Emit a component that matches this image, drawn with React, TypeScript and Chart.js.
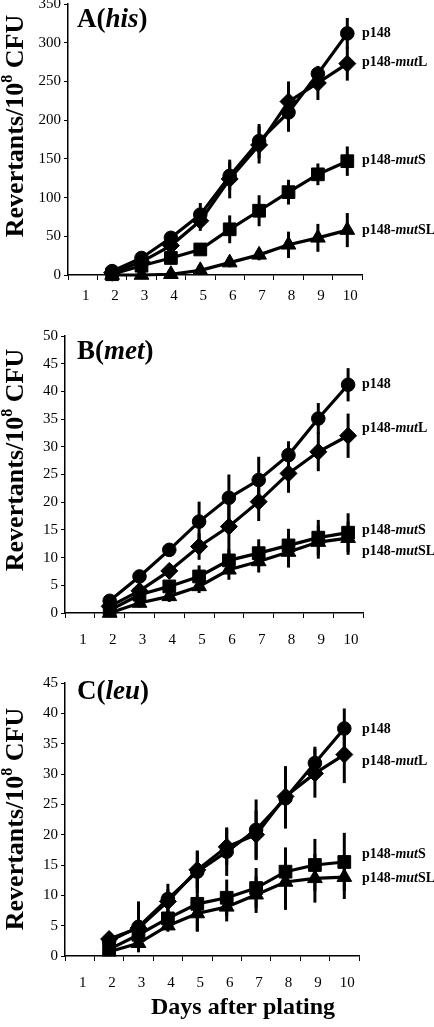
import React, { useEffect, useRef } from 'react';
import { Chart, registerables } from 'chart.js';

Chart.register(...registerables);

// ---------- data ----------
const DAYS = ['1', '2', '3', '4', '5', '6', '7', '8', '9', '10'];
// values for days 2..10 (day 1 has no measurement)
const A_P148 = [5, 22, 48, 78, 128, 173, 210, 260, 312];
const A_MUTL = [3, 17, 38, 70, 124, 168, 224, 248, 273];
const A_MUTS = [1, 12, 22, 33, 59, 83, 107, 130, 147];
const A_MUTSL = [0, 0, 1, 6, 16, 26, 39, 48, 58];
const A_P148_ERR = [3, 5, 7, 15, 18, 22, 25, 8, 20];
const A_MUTL_ERR = [3, 5, 5, 13, 25, 24, 26, 22, 22];
const A_MUTS_ERR = [2, 4, 5, 5, 18, 20, 16, 14, 19];
const A_MUTSL_ERR = [1, 1, 2, 4, 6, 7, 17, 18, 22];
const A_LABEL_Y = [312, 275, 148, 58];

const B_P148 = [2.2, 6.6, 11.4, 16.5, 20.8, 24, 28.5, 35.1, 41.2];
const B_MUTL = [1.2, 4.0, 7.6, 12, 15.6, 20.1, 25.2, 29.1, 32];
const B_MUTS = [0.5, 3.3, 4.8, 6.6, 9.5, 10.8, 12.2, 13.6, 14.5];
const B_MUTSL = [0, 1.8, 3.0, 4.8, 7.8, 9.3, 11, 12.8, 13.5];
const B_P148_ERR = [0.8, 1, 0.8, 3.6, 4.2, 4.2, 2.5, 2.8, 3];
const B_MUTL_ERR = [0.8, 1, 1.2, 2.4, 6, 3.5, 3.5, 3.5, 4];
const B_MUTS_ERR = [0.5, 0.8, 1, 2, 2, 2.5, 3, 3.2, 3.5];
const B_MUTSL_ERR = [0.3, 0.8, 1, 1.2, 1.8, 2, 2.8, 3, 3];
const B_LABEL_Y = [41.3, 33.3, 15, 11.1];

const C_P148 = [2.4, 4.8, 9.4, 13.9, 17.2, 20.8, 26.0, 31.8, 37.5];
const C_MUTL = [2.8, 4.6, 9.0, 14.2, 18.0, 20.0, 26.3, 30.1, 33.2];
const C_MUTS = [1.1, 3.5, 6.2, 8.6, 9.6, 11.2, 13.9, 15.0, 15.5];
const C_MUTSL = [0.7, 2.1, 5.0, 7.0, 8.1, 10.1, 12.2, 12.8, 13.0];
const C_P148_ERR = [0.5, 4.2, 2.5, 3.5, 4, 5, 5, 2.7, 3.3];
const C_MUTL_ERR = [0.5, 1, 2, 3, 3, 4, 5, 4, 4.7];
const C_MUTS_ERR = [0.5, 1, 1.5, 4.5, 3, 3.3, 4, 4.3, 4.8];
const C_MUTSL_ERR = [0.3, 0.8, 1, 3, 2.4, 3, 4.6, 4, 3.6];
const C_LABEL_Y = [37.4, 32, 16.8, 12.8];

// series label parts: [plain, italic, plain]
const SERIES_LABELS = [
  ['p148', '', ''],
  ['p148-', 'mut', 'L'],
  ['p148-', 'mut', 'S'],
  ['p148-', 'mut', 'SL'],
];
const POINT_STYLES = ['circle', 'rectRot', 'rect', 'triangle'];
const POINT_RADII = [6.8, 8.5, 9, 8.5];

const FONT = '"Liberation Serif", "Times New Roman", serif';

const PANELS = [
  {
    letter: 'A', gene: 'his', top: -6, height: 326,
    area: { left: 68, right: 362, top: 9, bottom: 281 },
    yMax: 350, yStep: 50, xTickPad: 7,
    values: [A_P148, A_MUTL, A_MUTS, A_MUTSL],
    errors: [A_P148_ERR, A_MUTL_ERR, A_MUTS_ERR, A_MUTSL_ERR],
    labelY: A_LABEL_Y,
    titleY: 26, yTitleY: 132, xTitle: '',
  },
  {
    letter: 'B', gene: 'met', top: 320, height: 330,
    area: { left: 65, right: 363, top: 16, bottom: 293 },
    yMax: 50, yStep: 5, xTickPad: 13,
    values: [B_P148, B_MUTL, B_MUTS, B_MUTSL],
    errors: [B_P148_ERR, B_MUTL_ERR, B_MUTS_ERR, B_MUTSL_ERR],
    labelY: B_LABEL_Y,
    titleY: 32, yTitleY: 140, xTitle: '',
  },
  {
    letter: 'C', gene: 'leu', top: 650, height: 377,
    area: { left: 65, right: 359, top: 33, bottom: 306 },
    yMax: 45, yStep: 5, xTickPad: 13,
    values: [C_P148, C_MUTL, C_MUTS, C_MUTSL],
    errors: [C_P148_ERR, C_MUTL_ERR, C_MUTS_ERR, C_MUTSL_ERR],
    labelY: C_LABEL_Y,
    titleY: 42, yTitleY: 169, xTitle: 'Days after plating',
  },
];

const X_AXIS_H = 40;

function drawParts(ctx, x, y, parts) {
  let cx = x;
  parts.forEach(([text, font]) => {
    if (!text) return;
    ctx.font = font;
    ctx.fillText(text, cx, y);
    cx += ctx.measureText(text).width;
  });
}

function Panel({ panel }) {
  const ref = useRef(null);
  useEffect(() => {
    const W = 434;
    const H = panel.height;
    const a = panel.area;
    const annotate = {
      id: 'annotate' + panel.letter,
      beforeDatasetsDraw(chart) {
        const ctx = chart.ctx;
        const ys = chart.scales.y;
        ctx.save();
        ctx.strokeStyle = '#000';
        ctx.lineWidth = 3;
        chart.data.datasets.forEach((ds, i) => {
          const meta = chart.getDatasetMeta(i);
          const errs = panel.errors[i];
          meta.data.forEach((pt, j) => {
            const v = ds.data[j];
            if (v == null) return;
            const e = errs[j - 1];
            ctx.beginPath();
            ctx.moveTo(pt.x, ys.getPixelForValue(Math.max(0, v - e)));
            ctx.lineTo(pt.x, ys.getPixelForValue(v + e));
            ctx.stroke();
          });
        });
        ctx.restore();
      },
      afterDraw(chart) {
        const ctx = chart.ctx;
        const ys = chart.scales.y;
        ctx.save();
        ctx.fillStyle = '#000';
        ctx.textBaseline = 'middle';
        ctx.textAlign = 'left';
        // panel title
        drawParts(ctx, 77, panel.titleY, [
          [panel.letter + '(', `bold 27px ${FONT}`],
          [panel.gene, `italic bold 27px ${FONT}`],
          [')', `bold 27px ${FONT}`],
        ]);
        // series labels
        SERIES_LABELS.forEach((lab, i) => {
          const y = ys.getPixelForValue(panel.labelY[i]);
          drawParts(ctx, 362, y, [
            [lab[0], `bold 14px ${FONT}`],
            [lab[1], `italic bold 14px ${FONT}`],
            [lab[2], `bold 14px ${FONT}`],
          ]);
        });
        // y title (rotated, with superscript)
        ctx.save();
        ctx.translate(16, panel.yTitleY);
        ctx.rotate(-Math.PI / 2);
        const big = `bold 26px ${FONT}`;
        const small = `bold 16px ${FONT}`;
        ctx.font = big;
        const w1 = ctx.measureText('Revertants/10').width;
        const w3 = ctx.measureText(' CFU').width;
        ctx.font = small;
        const w2 = ctx.measureText('8').width;
        const x0 = -(w1 + w2 + w3) / 2;
        ctx.font = big;
        ctx.fillText('Revertants/10', x0, 0);
        ctx.font = small;
        ctx.fillText('8', x0 + w1, -8);
        ctx.font = big;
        ctx.fillText(' CFU', x0 + w1 + w2, 0);
        ctx.restore();
        // x title
        if (panel.xTitle) {
          ctx.font = `bold 24px ${FONT}`;
          ctx.textAlign = 'center';
          ctx.fillText(panel.xTitle, 243, 358);
        }
        ctx.restore();
      },
    };

    const datasets = panel.values.map((vals, i) => ({
      label: SERIES_LABELS[i].join(''),
      data: [null, ...vals],
      borderColor: '#000',
      backgroundColor: '#000',
      borderWidth: 3.2,
      pointStyle: POINT_STYLES[i],
      pointRadius: POINT_RADII[i],
      pointBackgroundColor: '#000',
      pointBorderColor: '#000',
      pointBorderWidth: 1,
      tension: 0,
      clip: false,
    }));

    const chart = new Chart(ref.current, {
      type: 'line',
      data: { labels: DAYS, datasets },
      options: {
        responsive: false,
        animation: false,
        devicePixelRatio: 1,
        layout: {
          padding: {
            left: 0,
            right: W - a.right,
            top: a.top,
            bottom: H - a.bottom - X_AXIS_H,
          },
        },
        plugins: { legend: { display: false }, tooltip: { enabled: false } },
        scales: {
          x: {
            type: 'category',
            offset: true,
            grid: {
              offset: true,
              drawOnChartArea: false,
              drawTicks: true,
              tickLength: 5,
              color: '#000',
              lineWidth: 1,
            },
            border: { color: '#000', width: 1.5 },
            ticks: {
              color: '#000',
              font: { family: FONT, size: 15 },
              padding: panel.xTickPad,
              labelOffset: 3,
              autoSkip: false,
              maxRotation: 0,
            },
            afterFit: (s) => {
              s.height = X_AXIS_H;
              s.paddingLeft = 0;
              s.paddingRight = 0;
            },
          },
          y: {
            min: 0,
            max: panel.yMax,
            grid: {
              drawOnChartArea: false,
              drawTicks: true,
              tickLength: 4,
              color: '#000',
              lineWidth: 1,
            },
            border: { color: '#000', width: 1.5 },
            ticks: {
              stepSize: panel.yStep,
              color: '#000',
              font: { family: FONT, size: 15 },
              padding: 3,
            },
            afterFit: (s) => {
              s.width = a.left;
              s.paddingTop = 0;
              s.paddingBottom = 0;
            },
          },
        },
      },
      plugins: [annotate],
    });
    return () => chart.destroy();
  }, [panel]);
  return (
    <canvas
      ref={ref}
      width={434}
      height={panel.height}
      style={{ position: 'absolute', left: 0, top: panel.top, width: 434, height: panel.height }}
    />
  );
}

export default function App() {
  useEffect(() => {
    document.body.style.margin = '0';
  }, []);
  return (
    <div style={{ position: 'absolute', left: 0, top: 0, width: 434, height: 1027, background: '#fff', overflow: 'hidden' }}>
      {PANELS.map((p) => (
        <Panel key={p.letter} panel={p} />
      ))}
    </div>
  );
}
